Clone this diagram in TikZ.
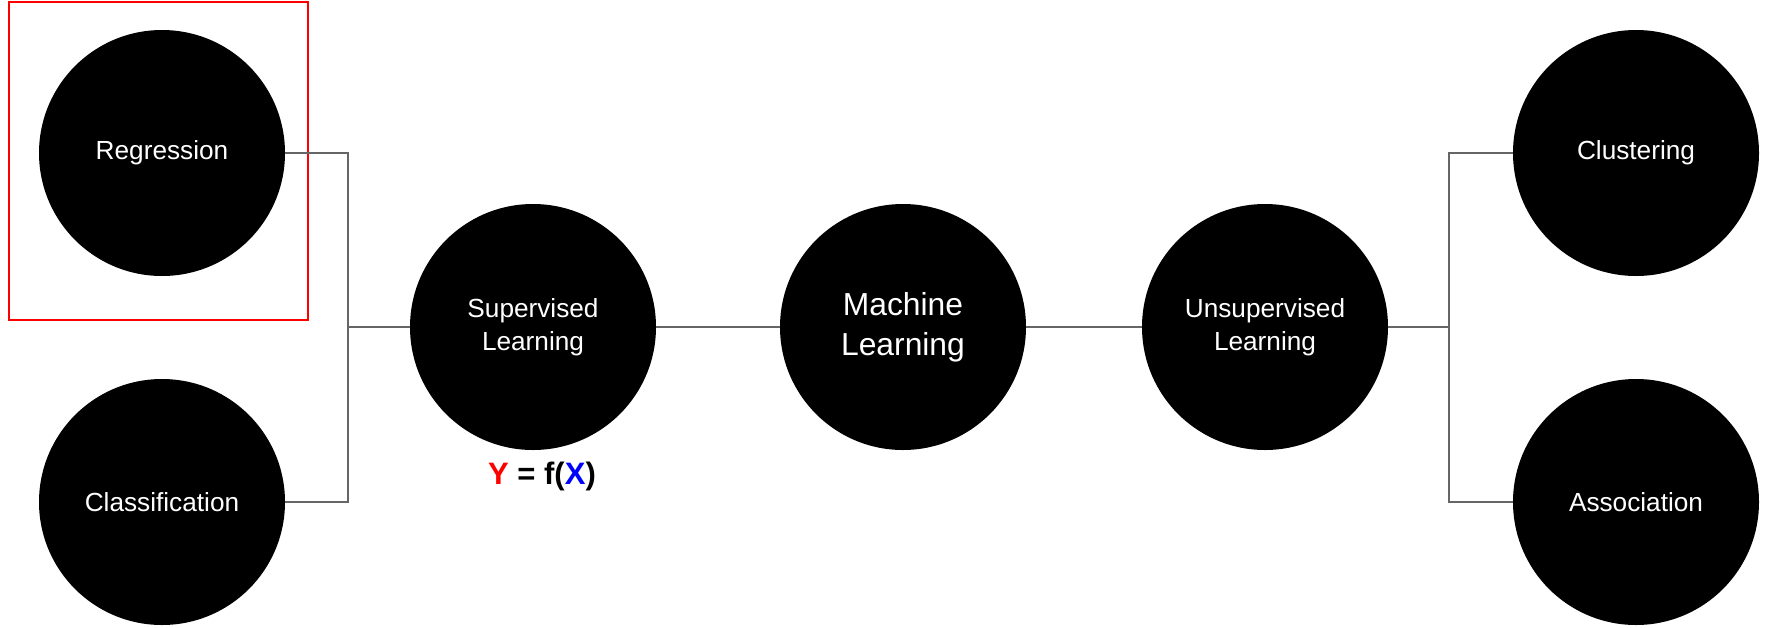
\documentclass[tikz,border=0pt]{standalone}
\usepackage{fontspec}
\setmainfont{Liberation Sans}
\usepackage{xcolor}
\usepackage{tikz}
\usetikzlibrary{positioning,calc}

\begin{document}
\begin{tikzpicture}[
    x=0.5pt, y=-0.5pt,
    ball/.style={circle, fill=black, text=white, minimum size=123pt, inner sep=0pt, align=center, font=\fontsize{13.1}{16.4}\selectfont},
    bigball/.style={ball, font=\fontsize{15.9}{20}\selectfont},
    wire/.style={draw=black!60, line width=1pt},
    mark box/.style={draw=red, line width=1pt},
]
    \useasboundingbox (0,0) rectangle (1768,627);

    % Centre
    \node[bigball] (ml) at (903, 327) {Machine\\Learning};

    % Branches
    \node[ball] (sup) at (533, 327) {Supervised\\Learning};
    \node[ball] (unsup) at (1265, 327) {Unsupervised\\Learning};

    % Leaves
    \node[ball] (reg) at (162, 153) {Regression};
    \node[ball] (cls) at (162, 502) {Classification};
    \node[ball] (clu) at (1636, 153) {Clustering};
    \node[ball] (asc) at (1636, 502) {Association};

    % Formula
    \node[font=\fontsize{15.5}{18}\selectfont\bfseries] (fx) at (542, 476)
        {\textcolor{red}{Y} = f(\textcolor{blue}{X})};

    % Highlight
    \node[mark box, minimum width=149.5pt, minimum height=159pt, inner sep=0pt] (hl) at (158.5, 161) {};

    % Junctions
    \coordinate (jl) at (348, 327);
    \coordinate (jr) at (1449, 327);

    % Connectors
    \draw[wire] (reg) -| (jl) |- (cls);
    \draw[wire] (jl) -- (sup);
    \draw[wire] (sup) -- (ml);
    \draw[wire] (ml) -- (unsup);
    \draw[wire] (unsup) -- (jr);
    \draw[wire] (clu) -| (jr) |- (asc);
\end{tikzpicture}
\end{document}
